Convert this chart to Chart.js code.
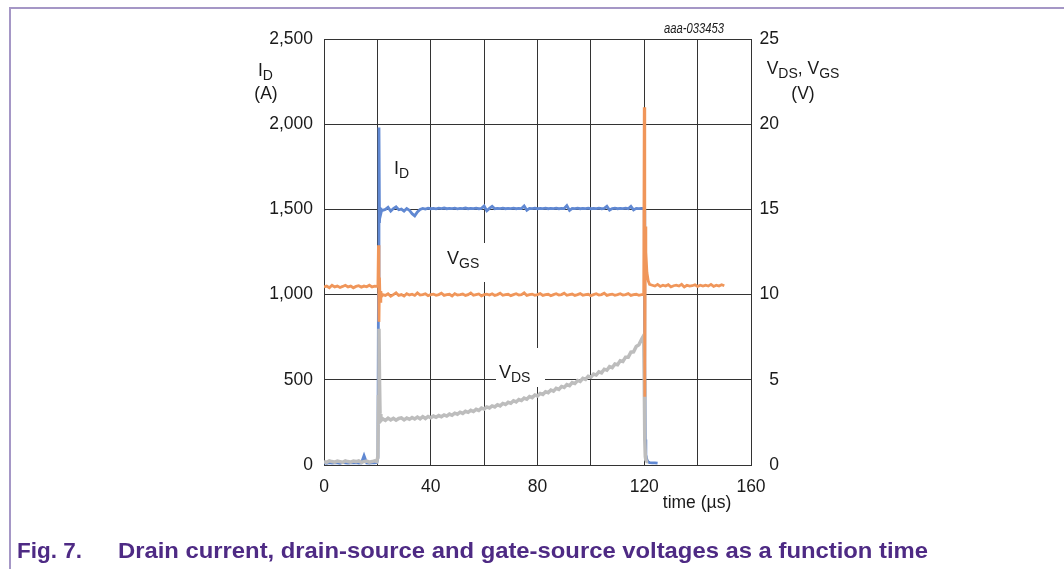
<!DOCTYPE html>
<html>
<head>
<meta charset="utf-8">
<script src="https://cdn.jsdelivr.net/npm/chart.js@4.4.1/dist/chart.umd.min.js"></script>
<style>
  html, body { margin: 0; padding: 0; background: #fff; }
  canvas { display: block; }
</style>
</head>
<body>
<canvas id="chart" width="1064" height="569"></canvas>
<script>
// time axis (µs), shared by all three traces
const timeUs = [
  0, 1, 2, 3, 4, 5, 6, 7, 8, 9,
  10, 11, 12, 13, 14, 15, 16, 17, 18, 19,
  19.8, 20.2, 20.4, 20.6, 20.8, 21, 21.3, 21.6,
  22, 23, 24, 25, 26, 27, 28, 29, 30, 31,
  32, 33, 34, 35, 36, 37, 38, 39, 40, 41,
  42, 43, 44, 45, 46, 47, 48, 49, 50, 51,
  52, 53, 54, 55, 56, 57, 58, 59, 60, 61,
  62, 63, 64, 65, 66, 67, 68, 69, 70, 71,
  72, 73, 74, 75, 76, 77, 78, 79, 80, 81,
  82, 83, 84, 85, 86, 87, 88, 89, 90, 91,
  92, 93, 94, 95, 96, 97, 98, 99, 100, 101,
  102, 103, 104, 105, 106, 107, 108, 109, 110, 111,
  112, 113, 114, 115, 116, 117, 118, 119,
  119.8, 120, 120.2, 120.4, 120.6, 121, 121.5, 122,
  123, 124, 125, 126, 127, 128, 129, 130, 131, 132,
  133, 134, 135, 136, 137, 138, 139, 140, 141, 142,
  143, 144, 145, 146, 147, 148, 149, 150
];

// drain current I_D (A), left axis
const drainCurrent = [
  12, 10, 14, 11, 13, 12, 10, 15, 12, 11,
  13, 12, 14, 11, 12, 55, 12, 11, 13, 12,
  14, 40, 1000, 1980, 1420, 1510, 1475, 1495,
  1495, 1500, 1512, 1490, 1505, 1515, 1498, 1502, 1490, 1505,
  1495, 1475, 1462, 1485, 1500, 1506, 1502, 1507, 1504, 1506,
  1503, 1507, 1505, 1508, 1504, 1506, 1505, 1507, 1503, 1506,
  1505, 1508, 1504, 1506, 1505, 1507, 1504, 1506, 1520, 1492,
  1506, 1518, 1504, 1506, 1505, 1507, 1504, 1506, 1505, 1507,
  1504, 1506, 1505, 1520, 1495, 1506, 1505, 1507, 1504, 1506,
  1505, 1507, 1504, 1506, 1505, 1507, 1504, 1506, 1505, 1522,
  1494, 1506, 1505, 1507, 1504, 1506, 1505, 1507, 1504, 1506,
  1505, 1507, 1504, 1506, 1518, 1496, 1505, 1507, 1504, 1506,
  1505, 1507, 1504, 1518, 1497, 1506, 1505, 1506,
  1505, 1500, 600, 150, 60, 30, 18, 14,
  12, 13, 11, null, null, null, null, null, null, null,
  null, null, null, null, null, null, null, null, null, null,
  null, null, null, null, null, null, null, null
];

// drain-source voltage V_DS (V), right axis
const vdsVolts = [
  0.2, 0.16, 0.24, 0.2, 0.17, 0.23, 0.2, 0.16, 0.24, 0.2,
  0.17, 0.23, 0.2, 0.24, 0.16, 0.2, 0.23, 0.17, 0.2, 0.24,
  0.2, 0.5, 4, 8, 5, 3, 2.6, 2.65,
  2.72, 2.62, 2.75, 2.64, 2.74, 2.63, 2.73, 2.77, 2.65, 2.76,
  2.68, 2.79, 2.7, 2.81, 2.71, 2.84, 2.73, 2.85, 2.77, 2.87,
  2.8, 2.9, 2.83, 2.94, 2.87, 2.99, 2.92, 3.04, 2.98, 3.1,
  3.03, 3.15, 3.09, 3.21, 3.14, 3.27, 3.2, 3.34, 3.28, 3.41,
  3.35, 3.47, 3.41, 3.54, 3.47, 3.61, 3.55, 3.68, 3.62, 3.77,
  3.7, 3.84, 3.78, 3.93, 3.86, 4.02, 3.95, 4.11, 4.05, 4.2,
  4.14, 4.3, 4.24, 4.4, 4.33, 4.5, 4.44, 4.61, 4.55, 4.72,
  4.66, 4.84, 4.78, 4.96, 4.9, 5.08, 5.02, 5.21, 5.15, 5.34,
  5.28, 5.47, 5.41, 5.62, 5.56, 5.77, 5.71, 5.93, 5.89, 6.12,
  6.08, 6.33, 6.33, 6.62, 6.64, 6.96, 7.05, 7.38,
  7.6, 5, 1.5, 0.5, 0.3, 0.2, 0.2, null,
  null, null, null, null, null, null, null, null, null, null,
  null, null, null, null, null, null, null, null, null, null,
  null, null, null, null, null, null, null, null
];

// gate-source voltage V_GS (V), right axis
const vgsVolts = [
  10.45, 10.5, 10.4, 10.55, 10.45, 10.5, 10.42, 10.48, 10.55, 10.45,
  10.5, 10.4, 10.48, 10.52, 10.44, 10.5, 10.46, 10.55, 10.45, 10.5,
  10.48, 10.5, 12.9, 8.4, 11, 9.6, 10.2, 9.9,
  10.0, 9.95, 10.05, 9.9, 10.0, 10.1, 9.95, 10.0, 9.92, 10.05,
  9.98, 10.02, 9.95, 10.1, 9.97, 10.0, 10.05, 9.94, 10.0, 10.03,
  9.96, 10.0, 10.08, 9.95, 10.0, 10.02, 9.92, 10.05, 9.98, 10.0,
  10.03, 9.95, 10.0, 10.1, 9.96, 10.0, 10.04, 9.93, 10.0, 10.02,
  9.97, 10.05, 9.95, 10.0, 10.08, 9.96, 10.0, 10.02, 9.94, 10.0,
  10.05, 9.97, 10.0, 10.1, 9.95, 10.0, 10.03, 9.96, 10.0, 10.06,
  9.95, 10.0, 10.02, 9.93, 10.0, 10.05, 9.97, 10.0, 10.08, 9.96,
  10.0, 10.03, 9.95, 10.0, 10.06, 9.96, 10.0, 10.02, 9.94, 10.0,
  10.05, 9.97, 10.0, 10.08, 9.95, 10.0, 10.03, 9.96, 10.0, 10.05,
  9.97, 10.0, 10.06, 9.95, 10.0, 10.02, 9.96, 10.0,
  10.0, 21.0, 4.0, 14.0, 12.5, 11.3, 10.8, 10.6,
  10.55, 10.5, 10.6, 10.48, 10.55, 10.5, 10.58, 10.45, 10.52, 10.55,
  10.5, 10.6, 10.45, 10.55, 10.5, 10.52, 10.58, 10.48, 10.55, 10.5,
  10.55, 10.5, 10.6, 10.48, 10.55, 10.5, 10.58, 10.52
];

const xTicks = [0, 40, 80, 120, 160];
const currentTicks = [0, 500, 1000, 1500, 2000, 2500];
const voltageTicks = [0, 5, 10, 15, 20, 25];

const FONT = '"Liberation Sans", Arial, sans-serif';
const INK = '#1a1a1a';
const GRID = '#333333';

function points(values) {
  return timeUs.map((t, i) => ({ x: t, y: values[i] }));
}

// text with subscripts: parts = [[text, isSub], ...], y = middle of main text
function drawSubText(ctx, parts, x, y, align, size) {
  const main = size + 'px ' + FONT;
  const sub = Math.round(size * 0.8) + 'px ' + FONT;
  const widths = parts.map(([t, s]) => { ctx.font = s ? sub : main; return ctx.measureText(t).width; });
  const total = widths.reduce((a, b) => a + b, 0);
  let cx = align === 'center' ? x - total / 2 : x;
  ctx.textAlign = 'left';
  ctx.textBaseline = 'middle';
  ctx.fillStyle = INK;
  parts.forEach(([t, s], i) => {
    ctx.font = s ? sub : main;
    ctx.fillText(t, cx, s ? y + 5 : y);
    cx += widths[i];
  });
}

// left-aligned text squeezed / stretched to a given width
function fitText(ctx, text, x, y, width) {
  const w = ctx.measureText(text).width;
  ctx.save();
  ctx.translate(x, y);
  ctx.scale(width / w, 1);
  ctx.fillText(text, 0, 0);
  ctx.restore();
}

const decorations = {
  id: 'decorations',
  beforeDraw(chart) {
    const ctx = chart.ctx;
    ctx.save();
    ctx.fillStyle = '#fff';
    ctx.fillRect(0, 0, chart.width, chart.height);
    ctx.restore();
  },
  beforeDatasetsDraw(chart) {
    const ctx = chart.ctx;
    ctx.save();
    // white boxes behind in-plot labels
    ctx.fillStyle = '#fff';
    ctx.fillRect(443, 243, 44, 39);
    ctx.fillRect(496, 348, 49, 39);
    drawSubText(ctx, [['I', false], ['D', true]], 394, 169, 'left', 18);
    drawSubText(ctx, [['V', false], ['GS', true]], 447, 259, 'left', 18);
    drawSubText(ctx, [['V', false], ['DS', true]], 499, 373, 'left', 18);
    ctx.restore();
  },
  afterDraw(chart) {
    const ctx = chart.ctx;
    ctx.save();
    // axis titles
    drawSubText(ctx, [['I', false], ['D', true]], 258, 71, 'left', 17.5);
    drawSubText(ctx, [['(A)', false]], 266, 94, 'center', 17.5);
    drawSubText(ctx, [['V', false], ['DS', true], [', V', false], ['GS', true]], 803, 69, 'center', 17.5);
    drawSubText(ctx, [['(V)', false]], 803, 94, 'center', 17.5);
    drawSubText(ctx, [['time (µs)', false]], 697, 503, 'center', 17.5);

    // drawing code
    ctx.font = 'italic 15px ' + FONT;
    ctx.textAlign = 'left';
    ctx.textBaseline = 'alphabetic';
    ctx.fillStyle = INK;
    fitText(ctx, 'aaa-033453', 664, 33, 60);

    // frame
    ctx.strokeStyle = '#a597c6';
    ctx.lineWidth = 2;
    ctx.beginPath();
    ctx.moveTo(10, 569);
    ctx.lineTo(10, 8);
    ctx.lineTo(1064, 8);
    ctx.stroke();

    // caption
    ctx.fillStyle = '#4e2a84';
    ctx.font = 'bold 22px ' + FONT;
    fitText(ctx, 'Fig. 7.', 17, 558, 65);
    fitText(ctx, 'Drain current, drain-source and gate-source voltages as a function time', 118, 558, 810);
    ctx.restore();
  }
};

new Chart(document.getElementById('chart'), {
  type: 'line',
  data: {
    datasets: [{
      label: 'VGS',
      data: points(vgsVolts),
      yAxisID: 'yV',
      borderColor: '#f0965a',
      borderWidth: 2.8
    }, {
      label: 'VDS',
      data: points(vdsVolts),
      yAxisID: 'yV',
      borderColor: '#bdbdbd',
      borderWidth: 3.5
    }, {
      label: 'ID',
      data: points(drainCurrent),
      yAxisID: 'yA',
      borderColor: '#6088d2',
      borderWidth: 2.8
    }]
  },
  options: {
    responsive: false,
    animation: false,
    devicePixelRatio: 1,
    elements: { point: { radius: 0 }, line: { tension: 0 } },
    layout: { padding: { top: 39, right: 285, left: 0, bottom: 0 } },
    plugins: { legend: { display: false }, tooltip: { enabled: false } },
    scales: {
      x: {
        type: 'linear',
        min: 0,
        max: 160,
        afterFit: s => { s.height = 104; },
        ticks: {
          stepSize: 20,
          autoSkip: false,
          maxRotation: 0,
          padding: 12,
          color: INK,
          font: { family: FONT, size: 17.5 },
          callback: v => xTicks.includes(v) ? String(v) : ''
        },
        grid: { color: GRID, drawTicks: false },
        border: { color: GRID }
      },
      yA: {
        position: 'left',
        min: currentTicks[0],
        max: currentTicks[currentTicks.length - 1],
        afterFit: s => { s.width = 324; },
        ticks: {
          stepSize: 500,
          padding: 11,
          color: INK,
          font: { family: FONT, size: 17.5 },
          callback: v => v.toLocaleString('en-US')
        },
        grid: { color: GRID, drawTicks: false },
        border: { color: GRID }
      },
      yV: {
        position: 'right',
        min: voltageTicks[0],
        max: voltageTicks[voltageTicks.length - 1],
        afterFit: s => { s.width = 28; },
        ticks: {
          stepSize: 5,
          padding: 8,
          crossAlign: 'far',
          color: INK,
          font: { family: FONT, size: 17.5 }
        },
        grid: { display: false, drawTicks: false },
        border: { color: GRID }
      }
    }
  },
  plugins: [decorations]
});
</script>
</body>
</html>
